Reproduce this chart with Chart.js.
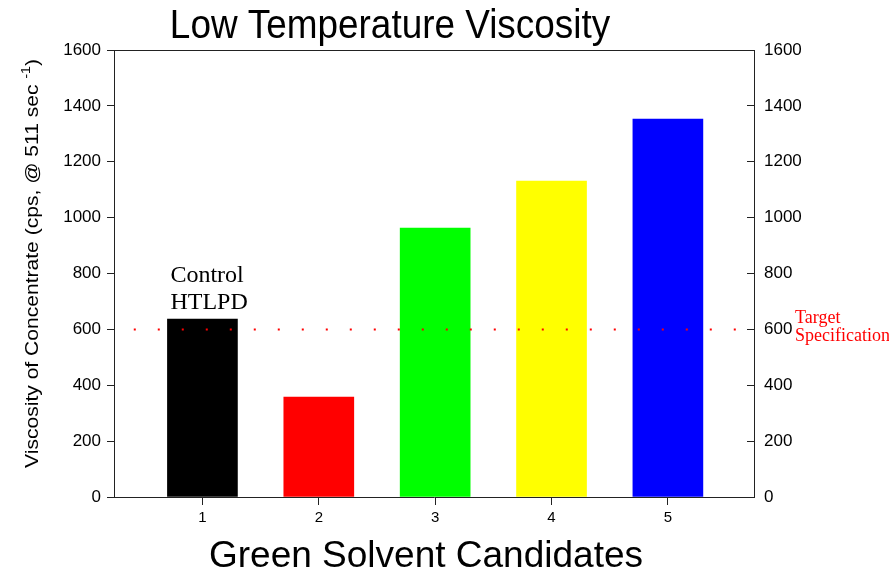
<!DOCTYPE html>
<html>
<head>
<meta charset="utf-8">
<script src="https://cdn.jsdelivr.net/npm/chart.js@4/dist/chart.umd.min.js"></script>
<style>
    html, body { margin: 0; padding: 0; background: #fff; }
    #wrap { width: 889px; height: 573px; }
</style>
</head>
<body>
<div id="wrap"><canvas id="viscosityChart" width="889" height="573"></canvas></div>
<script>
// Low temperature viscosity data
const candidates = [1, 2, 3, 4, 5];
const viscosity = [637, 358, 963, 1131, 1353];
const barColors = ['#000000', '#ff0000', '#00ff00', '#ffff00', '#0000ff'];
const targetSpec = 600;
const targetSpan = [0.41, 5.59];
const yTicks = [0, 200, 400, 600, 800, 1000, 1200, 1400, 1600];

const axisColor = '#222';
const sans = "'Liberation Sans', Arial, sans-serif";
const serif = "'Liberation Serif', 'Times New Roman', serif";

// Titles and text annotations
const annotations = {
    id: 'annotations',
    afterDraw(chart) {
        const { ctx, chartArea, scales } = chart;
        const x = scales.x, y = scales.y;
        ctx.save();

        // top frame line
        ctx.strokeStyle = axisColor;
        ctx.lineWidth = 1;
        ctx.beginPath();
        ctx.moveTo(chartArea.left, chartArea.top + 0.5);
        ctx.lineTo(chartArea.right, chartArea.top + 0.5);
        ctx.stroke();

        // chart title (narrow type, like the original)
        ctx.fillStyle = '#000';
        ctx.font = '41px ' + sans;
        ctx.textBaseline = 'alphabetic';
        ctx.textAlign = 'center';
        ctx.translate(390, 38);
        ctx.scale(0.9, 1);
        ctx.fillText('Low Temperature Viscosity', 0, 0);
        ctx.setTransform(1, 0, 0, 1, 0, 0);

        // x axis title
        ctx.font = '37px ' + sans;
        ctx.fillText('Green Solvent Candidates', 426, 567);

        // y axis title with superscript
        const main = 'Viscosity of Concentrate (cps, @ 511 sec ';
        const sup = '-1';
        const close = ')';
        ctx.translate(38, (chartArea.top + chartArea.bottom) / 2 - 10);
        ctx.rotate(-Math.PI / 2);
        ctx.scale(1.17, 1);
        ctx.textAlign = 'left';
        ctx.font = '18px ' + sans;
        const wMain = ctx.measureText(main).width;
        const wClose = ctx.measureText(close).width;
        ctx.font = '12px ' + sans;
        const wSup = ctx.measureText(sup).width;
        let pos = -(wMain + wSup + wClose) / 2;
        ctx.font = '18px ' + sans;
        ctx.fillText(main, pos, 0);
        pos += wMain;
        ctx.font = '12px ' + sans;
        ctx.fillText(sup, pos, -8);
        pos += wSup;
        ctx.font = '18px ' + sans;
        ctx.fillText(close, pos, 0);
        ctx.setTransform(1, 0, 0, 1, 0, 0);

        // bar 1 label
        const barX = x.getPixelForValue(candidates[0]);
        const barTop = y.getPixelForValue(viscosity[0]);
        ctx.font = '24px ' + serif;
        ctx.textAlign = 'left';
        ctx.fillText('Control', barX - 32, barTop - 37);
        ctx.fillText('HTLPD', barX - 32, barTop - 10);

        // target label
        const ty = y.getPixelForValue(targetSpec);
        ctx.fillStyle = '#ff0000';
        ctx.font = '18px ' + serif;
        ctx.fillText('Target', chartArea.right + 41, ty - 6);
        ctx.fillText('Specification', chartArea.right + 41, ty + 12);
        ctx.restore();
    }
};

const plainTick = (value) => String(value);

const ctx = document.getElementById('viscosityChart');

new Chart(ctx, {
    type: 'bar',
    data: {
        datasets: [{
            label: 'Viscosity',
            data: candidates.map((c, i) => ({ x: c, y: viscosity[i] })),
            backgroundColor: barColors,
            borderWidth: 0,
            barThickness: 70,
            order: 2
        }, {
            type: 'line',
            label: 'Target Specification',
            data: targetSpan.map(v => ({ x: v, y: targetSpec })),
            borderColor: '#ff0000',
            borderWidth: 2,
            borderDash: [2, 22],
            pointRadius: 0,
            fill: false,
            order: 1
        }]
    },
    options: {
        responsive: false,
        animation: false,
        layout: { padding: { top: 50, left: 0, right: 0, bottom: 0 } },
        plugins: {
            legend: { display: false },
            title: { display: false },
            tooltip: { enabled: false }
        },
        scales: {
            x: {
                type: 'linear',
                position: 'bottom',
                offset: false,
                min: 0.24,
                max: 5.74,
                afterBuildTicks: (scale) => {
                    scale.ticks = candidates.map(v => ({ value: v }));
                },
                afterFit: (scale) => { scale.height = 76; },
                grid: { drawOnChartArea: false, offset: false, tickLength: 8, color: axisColor },
                border: { color: axisColor, width: 1 },
                ticks: {
                    color: '#000',
                    font: { family: sans, size: 15 },
                    padding: 4,
                    maxRotation: 0,
                    callback: plainTick
                }
            },
            y: {
                position: 'left',
                min: 0,
                max: 1600,
                afterBuildTicks: (scale) => {
                    scale.ticks = yTicks.map(v => ({ value: v }));
                },
                afterFit: (scale) => { scale.width = 114; },
                grid: { drawOnChartArea: false, tickLength: 7, color: axisColor },
                border: { color: axisColor, width: 1 },
                ticks: {
                    color: '#000',
                    font: { family: sans, size: 17 },
                    padding: 6,
                    callback: plainTick
                }
            },
            y2: {
                position: 'right',
                min: 0,
                max: 1600,
                afterBuildTicks: (scale) => {
                    scale.ticks = yTicks.map(v => ({ value: v }));
                },
                afterFit: (scale) => { scale.width = 135; },
                grid: { drawOnChartArea: false, tickLength: -7, color: axisColor },
                border: { color: axisColor, width: 1 },
                ticks: {
                    color: '#000',
                    font: { family: sans, size: 17 },
                    padding: 17,
                    callback: plainTick
                }
            }
        }
    },
    plugins: [annotations]
});
</script>
</body>
</html>
